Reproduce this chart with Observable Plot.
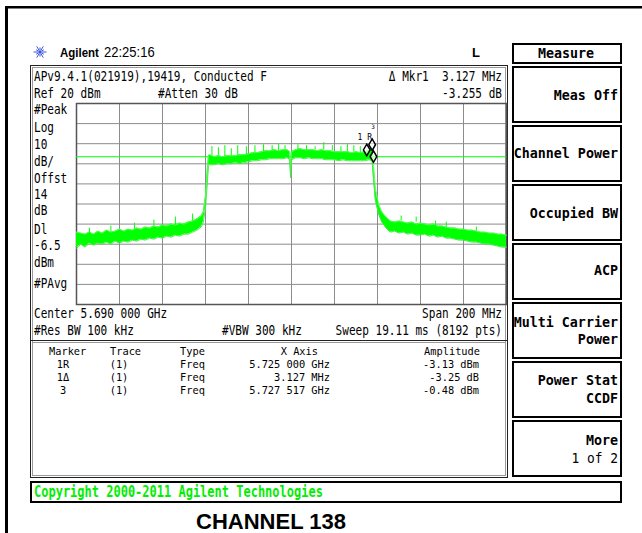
<!DOCTYPE html>
<html><head><meta charset="utf-8">
<script src="https://cdn.jsdelivr.net/npm/d3@7"></script>
<script src="https://cdn.jsdelivr.net/npm/@observablehq/plot@0.6"></script>
<style>
html,body{margin:0;padding:0;background:#fff;}
#wrap{position:relative;width:642px;height:533px;overflow:hidden;background:#fff;}
#deco{position:absolute;left:0;top:0;}
#chart{position:absolute;left:66px;top:93px;}
text{white-space:pre;}
</style></head><body>
<div id="wrap"><svg id="deco" width="642" height="533"></svg><div id="chart"></div></div>
<script>
// ---------- data ----------
const freqMHz = [5590,5592,5594,5596,5598,5600,5602,5604,5606,5608,5610,5612,5614,5616,5618,5620,5622,5624,5626,5628,5630,5632,5634,5636,5638,5640,5642,5644,5646,5648,5649,5650,5650.7,5651.4,
 5652,5654,5656,5658,5660,5662,5664,5666,5668,5670,5672,5674,5676,5678,5680,5682,5684,5686,5688,5689.2,5689.6,5690,
 5692,5694,5696,5698,5700,5702,5704,5706,5708,5710,5712,5714,5716,5718,5720,5722,5724,5726,5727.5,5728.2,5729,5730.5,5732,5734,
 5736,5738,5740,5742,5744,5746,5748,5750,5752,5754,5756,5758,5760,5762,5764,5766,5768,5770,5772,5774,5776,5778,5780,5782,5784,5786,5788,5790];
const traceLo = [-52,-50,-51.5,-49.5,-50.5,-49.5,-50,-49,-50,-48.5,-49.5,-48.5,-49,-48,-48.5,-47.5,-48,-47,-47.5,-46.5,-47,-46,-46.5,-45.5,-46,-45,-45,-44,-43,-41.5,-39,-32,-22,-11,
 -10.5,-10.5,-10,-10.5,-10,-10,-9.5,-10,-9.5,-9,-8.5,-8.5,-8,-8,-7.5,-7.5,-7.5,-7.5,-7,-8,-17,-8,
 -7,-7,-7.5,-7,-7.5,-7.5,-7.5,-8,-8,-8,-8.5,-8,-8.5,-8.5,-8.5,-8.5,-8.5,-8,-8.5,-18,-28,-35,-39,-42,
 -44,-43.5,-44.5,-44,-45,-44.5,-45.5,-45.5,-45,-46,-45.5,-46.5,-46,-47,-47,-47.5,-48,-48,-48.5,-49,-49,-49.5,-50,-50,-50.5,-51,-51.5,-51.5];
const traceHi = [-44,-44.5,-45,-44,-45,-43.5,-44.5,-43,-44,-43.5,-42.5,-43.5,-42.5,-43,-42,-42.5,-41.5,-42,-41,-41.5,-40.5,-41,-40,-40.5,-39.5,-40,-39,-38.5,-37.5,-36,-34,-26,-15,-6,
 -5.5,-6.5,-6,-6.5,-6,-6,-6,-5.5,-5.5,-5,-4.5,-4.5,-4,-3.5,-3.5,-3,-3.5,-3,-3,-4,-12,-4,
 -3,-2.5,-3,-3,-3,-3.5,-3,-3.5,-3.5,-4,-4,-4,-4,-4.5,-4,-4.5,-4,-3.5,-2,-11,-22,-30,-34,-36.5,
 -38.5,-39,-38.5,-39,-39.5,-39,-40,-39.5,-40,-40.5,-40,-41,-41,-41.5,-42,-42,-42.5,-42.5,-43,-43,-43.5,-44,-44,-44.5,-44.5,-45,-45,-45.5];
const spikeFreq = [5596,5606,5617,5626,5636,5644,5653,5656,5659,5662,5665,5669,5673,5677,5681,5684,5687,5693,5697,5701,5705,5709,5713,5716,5719,5722,5741,5748,5757,5762,5776];
const spikeBase = [-45,-44,-42.5,-41,-40.5,-38.5,-6,-6,-6.5,-6,-6,-5.5,-4.5,-4,-3.5,-3.5,-3,-3,-3,-3,-3,-3.5,-4,-4,-4,-4.5,-38.5,-39,-41,-41.5,-43.5];
const spikeTop  = [-42,-41,-39.5,-38,-36.5,-35,-1.5,-2,-1,-2.5,-1,-1.5,-1,-0.5,-1,0,-1,-0.5,-1,-1.5,0.5,-1,-1.5,0,-1,-1.5,-36,-36.5,-38.5,-39,-41.5];
const markerNames = ["1R","1Δ","3"];
const markerTrace = ["(1)","(1)","(1)"];
const markerType = ["Freq","Freq","Freq"];
const markerFreqMHz = [5725,5728.127,5727.517];
const markerAmp = [-3.13,-6.38,-0.48];
const markerXText = ["5.725 000 GHz","3.127 MHz","5.727 517 GHz"];
const markerAmpText = ["-3.13 dBm","-3.25 dB","-0.48 dBm"];
const displayLineDbm = -6.5;
const gridFreq = [5590,5610,5630,5650,5670,5690,5710,5730,5750,5770,5790];
const gridLevel = [20,10,0,-10,-20,-30,-40,-50,-60,-70,-80];
const sideLabels = ["#Peak","Log","10","dB/","Offst","14","dB","Dl","-6.5","dBm","#PAvg"];
const softkeys = [["Meas Off"],["Channel Power"],["Occupied BW"],["ACP"],["Multi Carrier","Power"],["Power Stat","CCDF"],["More","1 of 2"]];

// ---------- chart (Plot) ----------
const trace = freqMHz.map((f,i)=>({f, lo:traceLo[i], hi:traceHi[i]}));
const spikes = spikeFreq.map((f,i)=>({f, base:spikeBase[i], top:spikeTop[i]}));
const markers = markerNames.map((n,i)=>({n, f:markerFreqMHz[i], a:markerAmp[i]}));
const green = "#00ff00";
const plot = Plot.plot({
  width: 450, height: 221,
  marginLeft: 10, marginRight: 10, marginTop: 10, marginBottom: 10,
  x: {domain: [5590, 5790], axis: null},
  y: {domain: [-80, 20], axis: null},
  style: {fontFamily: "'DejaVu Sans Mono', monospace", background: "transparent"},
  marks: [
    Plot.ruleX(gridFreq, {stroke: "#8c8c8c", strokeWidth: 1}),
    Plot.ruleY(gridLevel, {stroke: "#8c8c8c", strokeWidth: 1}),
    Plot.frame({stroke: "#555", strokeWidth: 1.5}),
    Plot.ruleY([displayLineDbm], {stroke: green, strokeWidth: 1}),
    Plot.areaY(trace, {x: "f", y1: "lo", y2: "hi", fill: green}),
    Plot.line(trace, {x: "f", y: "hi", stroke: "#55ff55", strokeWidth: 1}),
    Plot.line(trace, {x: "f", y: "lo", stroke: "#44ee44", strokeWidth: 1}),
    Plot.ruleX(spikes, {x: "f", y1: "base", y2: "top", stroke: green, strokeWidth: 1}),
    Plot.dot(markers, {x: "f", y: "a", symbol: "diamond", r: 3.5, stroke: "black", strokeWidth: 1.5, fill: "white", fillOpacity: 0.6}),
    Plot.text(markers.filter(d => d.n === "1R"), {x: "f", y: "a", text: d => "1 R", dx: -2, dy: -13, fontSize: 8, fill: "black"}),
    Plot.text(markers.filter(d => d.n === "3"), {x: "f", y: "a", text: d => "3", dx: 1, dy: -18, fontSize: 6, fill: "black"})
  ]
});
document.getElementById("chart").appendChild(plot);

// ---------- instrument screen decoration ----------
const svg = d3.select("#deco");
const mono = "'DejaVu Sans Mono', monospace";
const sans = "'Liberation Sans', Arial, sans-serif";
function t(x, y, s, o = {}) {
  return svg.append("text")
    .attr("transform", `translate(${x},${y}) scale(${o.sx ?? 1},1)`)
    .attr("text-anchor", o.anchor ?? "start")
    .attr("font-family", o.family ?? mono)
    .attr("font-size", o.size ?? 13.5)
    .attr("font-weight", o.weight ?? "normal")
    .attr("fill", o.fill ?? "#000")
    .text(s);
}
function box(x, y, w, h, stroke, sw) {
  svg.append("rect").attr("x", x).attr("y", y).attr("width", w).attr("height", h)
    .attr("fill", "none").attr("stroke", stroke).attr("stroke-width", sw);
}
// outer page lines
svg.append("rect").attr("x", 5).attr("y", 6).attr("width", 637).attr("height", 2.5).attr("fill", "#000");
svg.append("rect").attr("x", 5).attr("y", 6).attr("width", 3).attr("height", 527).attr("fill", "#000");

// header
const lg = svg.append("g").attr("transform", "translate(40,52)");
for (let k = 0; k < 12; k++) {
  const a = k * Math.PI / 6, r = (k % 2) ? 4.5 : 6.5;
  lg.append("line").attr("x1", Math.cos(a) * 1.5).attr("y1", Math.sin(a) * 1.5)
    .attr("x2", Math.cos(a) * r).attr("y2", Math.sin(a) * r)
    .attr("stroke", "#3a55d8").attr("stroke-width", 1);
}
lg.append("circle").attr("r", 1.3).attr("fill", "#3a55d8");
t(60, 57, "Agilent", {family: sans, size: 13.5, weight: "bold", sx: 0.85});
t(104, 57, "22:25:16", {family: sans, size: 14, sx: 0.93});
t(472, 57, "L", {family: sans, size: 13, weight: "bold"});

// screen box (double border)
box(30.5, 65.5, 477, 412, "#222", 1);
box(32.5, 67.5, 473, 408, "#9a9a9a", 1);
svg.append("line").attr("x1", 31).attr("x2", 507).attr("y1", 340.5).attr("y2", 340.5).attr("stroke", "#222");
svg.append("line").attr("x1", 33).attr("x2", 505).attr("y1", 342.5).attr("y2", 342.5).attr("stroke", "#9a9a9a");

const S = 0.82;
t(34, 81, "APv9.4.1(021919),19419, Conducted F", {sx: S});
t(34, 98, "Ref 20 dBm", {sx: S});
t(158, 98, "#Atten 30 dB", {sx: S});
t(502, 81, "Δ Mkr1  3.127 MHz", {sx: S, anchor: "end"});
t(502, 98, "-3.255 dB", {sx: S, anchor: "end"});
const sideY = [114, 132, 149, 166, 183, 199, 215, 234, 250, 267, 288];
sideLabels.forEach((s, i) => t(34, sideY[i], s, {sx: S}));
t(34, 318, "Center 5.690 000 GHz", {sx: S});
t(502, 318, "Span 200 MHz", {sx: S, anchor: "end"});
t(34, 335, "#Res BW 100 kHz", {sx: S});
t(222, 335, "#VBW 300 kHz", {sx: S});
t(502, 335, "Sweep 19.11 ms (8192 pts)", {sx: S, anchor: "end"});

// marker table
const T = {sx: 0.94, size: 11};
t(49, 355, "Marker", T);
t(110, 355, "Trace", T);
t(180, 355, "Type", T);
t(318, 355, "X Axis", {...T, anchor: "end"});
t(480, 355, "Amplitude", {...T, anchor: "end"});
const rowY = [368, 381, 394];
markerNames.forEach((n, i) => {
  t(63, rowY[i], n, {...T, anchor: "middle"});
  t(119, rowY[i], markerTrace[i], {...T, anchor: "middle"});
  t(180, rowY[i], markerType[i], T);
  t(330, rowY[i], markerXText[i], {...T, anchor: "end"});
  t(479, rowY[i], markerAmpText[i], {...T, anchor: "end"});
});

// softkeys
box(513, 44, 108, 19, "#000", 2);
t(566, 58, "Measure", {size: 14.5, weight: "bold", sx: 0.92, anchor: "middle"});
const keyBoxes = [[67, 55], [126, 55], [185, 55], [244, 55], [303, 55], [362, 55], [421, 55]];
const keyBase = [[100], [158], [218], [275], [327, 344], [385, 403], [445, 463]];
softkeys.forEach((lines, i) => {
  const [y, h] = keyBoxes[i];
  box(513, y, 108, h, "#000", 2);
  lines.forEach((s, j) => {
    const isSub = (i === 6 && j === 1);
    t(618, keyBase[i][j], s, {size: isSub ? 14 : 14.5, weight: isSub ? "normal" : "bold", sx: 0.92, anchor: "end"});
  });
});

// copyright bar
box(31, 482, 590, 20, "#000", 2);
t(34, 497, "Copyright 2000-2011 Agilent Technologies", {size: 15, weight: "bold", sx: 0.8, fill: "#00ee00"});

// caption
t(271, 529, "CHANNEL 138", {family: sans, size: 22, weight: "bold", anchor: "middle"});
</script>
</body></html>
